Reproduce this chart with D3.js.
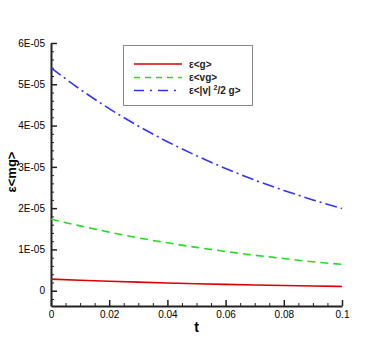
<!DOCTYPE html>
<html>
<head>
<meta charset="utf-8">
<script src="https://cdn.jsdelivr.net/npm/d3@7"></script>
<style>
  body { margin: 0; background: #fff; }
  svg { display: block; font-family: "Liberation Sans", Arial, sans-serif; }
</style>
</head>
<body>
<div id="chart"></div>
<script>
// values
var tValues = [0, 0.01, 0.02, 0.03, 0.04, 0.05, 0.06, 0.07, 0.08, 0.09, 0.1];
var gValues = [2.8e-6, 2.54e-6, 2.3e-6, 2.08e-6, 1.88e-6, 1.7e-6, 1.54e-6, 1.39e-6, 1.26e-6, 1.14e-6, 1.03e-6];
var vgValues = [1.73e-5, 1.57e-5, 1.42e-5, 1.28e-5, 1.16e-5, 1.05e-5, 0.95e-5, 0.86e-5, 0.78e-5, 0.7e-5, 0.64e-5];
var v2gValues = [5.4e-5, 4.88e-5, 4.41e-5, 3.99e-5, 3.61e-5, 3.27e-5, 2.96e-5, 2.68e-5, 2.43e-5, 2.2e-5, 1.99e-5];
var seriesNames = ["g", "vg", "v2g"];
var xTickValues = [0, 0.02, 0.04, 0.06, 0.08, 0.1];
var xTickLabels = ["0", "0.02", "0.04", "0.06", "0.08", "0.1"];
var yTickValues = [0, 1e-5, 2e-5, 3e-5, 4e-5, 5e-5, 6e-5];
var yTickLabels = ["0", "1E-05", "2E-05", "3E-05", "4E-05", "5E-05", "6E-05"];

var width = 389, height = 346;
var margin = {left: 51, right: 342, top: 43, bottom: 306};

var svg = d3.select("#chart").append("svg")
    .attr("width", width)
    .attr("height", height);

var x = d3.scaleLinear().domain([0, 0.1]).range([margin.left, margin.right]);
var y = d3.scaleLinear().domain([-3.7e-6, 6e-5]).range([margin.bottom, margin.top]);

var xMinor = d3.range(0, 0.1001, 0.005).filter(function(d) {
    return xTickValues.every(function(v) { return Math.abs(v - d) > 1e-9; });
});
var yMinor = d3.range(-2e-6, 6.01e-5, 2e-6).filter(function(d) {
    return yTickValues.every(function(v) { return Math.abs(v - d) > 1e-12; });
});

// minor ticks
svg.append("g")
    .attr("transform", "translate(0," + margin.bottom + ")")
    .call(d3.axisBottom(x).tickValues(xMinor).tickSizeInner(-3).tickSizeOuter(0).tickFormat(""))
    .call(function(g) { g.select(".domain").remove(); })
    .selectAll("line").attr("stroke", "#222");
svg.append("g")
    .attr("transform", "translate(" + margin.left + ",0)")
    .call(d3.axisLeft(y).tickValues(yMinor).tickSizeInner(-3).tickSizeOuter(0).tickFormat(""))
    .call(function(g) { g.select(".domain").remove(); })
    .selectAll("line").attr("stroke", "#222");

// major axes
var xAxis = svg.append("g")
    .attr("transform", "translate(0," + margin.bottom + ")")
    .call(d3.axisBottom(x).tickValues(xTickValues).tickSizeInner(-6).tickSizeOuter(0).tickPadding(5)
        .tickFormat(function(d, i) { return xTickLabels[i]; }));
var yAxis = svg.append("g")
    .attr("transform", "translate(" + margin.left + ",0)")
    .call(d3.axisLeft(y).tickValues(yTickValues).tickSizeInner(-6).tickSizeOuter(0).tickPadding(6)
        .tickFormat(function(d, i) { return yTickLabels[i]; }));

[xAxis, yAxis].forEach(function(a) {
    a.select(".domain").attr("stroke", "#222").attr("stroke-width", 2);
    a.selectAll(".tick line").attr("stroke", "#222").attr("stroke-width", 1.5);
    a.selectAll(".tick text").attr("font-size", 10).attr("fill", "#000")
        .attr("font-family", "'Liberation Sans', Arial, sans-serif");
});

// series
var styles = {
    g:   { color: "#dd0000", dash: null, legendDash: null },
    vg:  { color: "#22dd22", dash: "8,5", legendDash: "6,5" },
    v2g: { color: "#3333ff", dash: "12,4,2,4", legendDash: "10,6,2,6" }
};
var seriesData = { g: gValues, vg: vgValues, v2g: v2gValues };

var line = d3.line()
    .x(function(d) { return x(d[0]); })
    .y(function(d) { return y(d[1]); })
    .curve(d3.curveMonotoneX);

seriesNames.forEach(function(name) {
    svg.append("path")
        .datum(tValues.map(function(t, i) { return [t, seriesData[name][i]]; }))
        .attr("fill", "none")
        .attr("stroke", styles[name].color)
        .attr("stroke-width", 1.6)
        .attr("stroke-dasharray", styles[name].dash)
        .attr("d", line);
});

// legend
var legend = svg.append("g");
legend.append("rect")
    .attr("x", 123.5).attr("y", 45.5)
    .attr("width", 129).attr("height", 60)
    .attr("fill", "#fff")
    .attr("stroke", "#888")
    .attr("stroke-width", 1);

var rowY = [64, 77.5, 90.5];
seriesNames.forEach(function(name, i) {
    legend.append("line")
        .attr("x1", 134).attr("x2", 182)
        .attr("y1", rowY[i]).attr("y2", rowY[i])
        .attr("stroke", styles[name].color)
        .attr("stroke-width", 1.6)
        .attr("stroke-dasharray", styles[name].legendDash);
});

var labelText = legend.selectAll("text.lab")
    .data(seriesNames)
    .enter().append("text")
    .attr("class", "lab")
    .attr("x", 189)
    .attr("y", function(d, i) { return rowY[i] + 3.5; })
    .attr("font-size", 10)
    .attr("font-weight", "bold")
    .attr("fill", "#222");

labelText.filter(function(d) { return d === "g"; }).text("ε<g>");
labelText.filter(function(d) { return d === "vg"; }).text("ε<vg>");
var lt = labelText.filter(function(d) { return d === "v2g"; });
lt.append("tspan").text("ε<|v| ");
lt.append("tspan").attr("font-size", 7).attr("dy", -4).text("2");
lt.append("tspan").attr("dy", 4).text("/2 g>");

// axis titles
svg.append("text")
    .attr("x", (margin.left + margin.right) / 2)
    .attr("y", 332)
    .attr("text-anchor", "middle")
    .attr("font-size", 14)
    .attr("font-weight", "bold")
    .text("t");

svg.append("text")
    .attr("transform", "translate(15.5,172) rotate(-90)")
    .attr("text-anchor", "middle")
    .attr("font-size", 13)
    .attr("font-weight", "bold")
    .text("ε<mg>");
</script>
</body>
</html>
